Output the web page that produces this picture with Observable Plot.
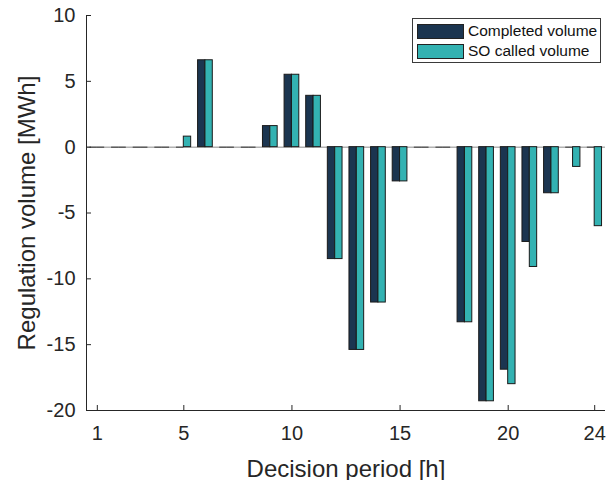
<!DOCTYPE html>
<html><head><meta charset="utf-8">
<script src="https://cdn.jsdelivr.net/npm/d3@7"></script>
<script src="https://cdn.jsdelivr.net/npm/@observablehq/plot@0.6"></script>
<style>
body{margin:0;background:#fff;font-family:"Liberation Sans",Arial,sans-serif}
#wrap{position:relative;width:614px;height:480px}
#legend{position:absolute;left:412px;top:18px;width:189px;height:45px;border:1px solid #3a3a3a;background:#fff;box-sizing:border-box}
.item{position:absolute;left:4px;height:16px;display:flex;align-items:center;font-size:15.5px;color:#111;white-space:nowrap}
.sw{width:47px;height:15px;box-sizing:border-box;border:1px solid #222;margin-right:4px}
</style></head><body><div id="wrap"></div>
<script>
const hours = [1,2,3,4,5,6,7,8,9,10,11,12,13,14,15,16,17,18,19,20,21,22,23,24];
const completedVolume = [0,0,0,0,0,6.6,0,0,1.6,5.5,3.9,-8.5,-15.4,-11.8,-2.6,0,0,-13.3,-19.3,-16.9,-7.2,-3.5,0,0];
const soCalledVolume = [0,0,0,0,0.8,6.6,0,0,1.6,5.5,3.9,-8.5,-15.4,-11.8,-2.6,0,0,-13.3,-19.3,-18.0,-9.1,-3.5,-1.5,-6.0];
const seriesNames = ["Completed volume", "SO called volume"];
const seriesColors = ["#1b3550", "#33b2b2"];
const xTicks = [1,5,10,15,20,24];
const yTicks = [-20,-15,-10,-5,0,5,10];
const xDomain = [0.5, 24.5];
const yDomain = [-20, 10];

const BW = 0.34; // bar width in hours
const rows = [];
hours.forEach((h,i)=>{
  rows.push({hour:h, series:seriesNames[0], value:completedVolume[i], off:-BW});
  rows.push({hour:h, series:seriesNames[1], value:soCalledVolume[i], off:0});
});
const ink = "#262626";

const chart = Plot.plot({
  width: 614, height: 480,
  marginLeft: 86, marginRight: 9, marginTop: 15, marginBottom: 70,
  style: {fontFamily: '"Liberation Sans", Arial, sans-serif', color: ink, background: "#fff"},
  x: {domain: xDomain},
  y: {domain: yDomain},
  color: {domain: seriesNames, range: seriesColors},
  marks: [
    Plot.ruleY([0], {stroke: "#8a8a8a", strokeWidth: 1}),
    Plot.rect(rows.filter(d=>d.value!==0), {
      x1: d=>d.hour+d.off, x2: d=>d.hour+d.off+BW, y1: 0, y2: "value",
      fill: "series", stroke: "#1a1a1a", strokeWidth: 1
    }),
    Plot.ruleY(rows.filter(d=>d.value===0), {
      y: "value", x1: d=>d.hour+d.off, x2: d=>d.hour+d.off+BW, stroke: "#333", strokeWidth: 1
    }),
    Plot.ruleX([xDomain[0]], {stroke: ink, strokeWidth: 1}),
    Plot.ruleY([yDomain[0]], {stroke: ink, strokeWidth: 1}),
    Plot.tickX(xTicks, {x: d=>d, insetTop: 390, stroke: ink}),
    Plot.tickY(yTicks, {y: d=>d, insetRight: 514, stroke: ink}),
    Plot.axisX({ticks: xTicks, tickFormat: d=>String(d), tickSize: 0, tickPadding: 15, fontSize: 20, label: "Decision period [h]", labelAnchor: "center", labelOffset: 66, labelArrow: "none"}),
    Plot.axisY({ticks: yTicks, tickFormat: d=>String(d), tickSize: 0, tickPadding: 11, fontSize: 20, label: "Regulation volume [MWh]", labelAnchor: "center", labelOffset: 69, labelArrow: "none"})
  ]
});
chart.style.fontSize = "20px";
const wrap = document.getElementById("wrap");
wrap.appendChild(chart);
chart.querySelectorAll('[aria-label="x-axis label"] text, [aria-label="y-axis label"] text').forEach(t=>{t.style.fontSize="24px";});

const lg = document.createElement("div");
lg.id = "legend";
seriesNames.forEach((n,i)=>{
  const it = document.createElement("div");
  it.className = "item";
  it.style.top = (4 + i*20) + "px";
  const sw = document.createElement("div");
  sw.className = "sw";
  sw.style.background = seriesColors[i];
  it.appendChild(sw);
  it.appendChild(document.createTextNode(n));
  lg.appendChild(it);
});
wrap.appendChild(lg);
</script></body></html>
